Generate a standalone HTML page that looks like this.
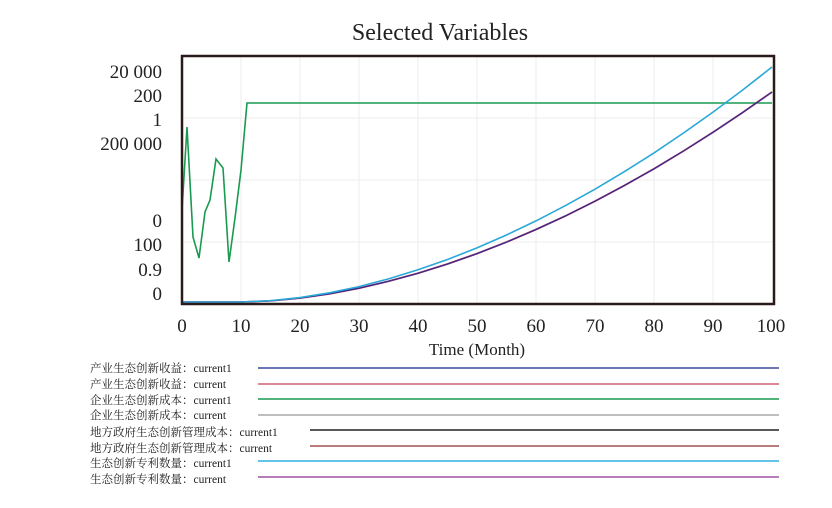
<!DOCTYPE html>
<html><head><meta charset="utf-8"><style>
body{margin:0;background:#fff;width:832px;height:503px;overflow:hidden}
svg text{font-family:"Liberation Serif","Noto Serif CJK SC",serif;fill:#222}
</style></head><body>
<svg width="832" height="503" xmlns="http://www.w3.org/2000/svg">
<text x="440" y="40" font-size="24" text-anchor="middle">Selected Variables</text>
<g stroke="#eee" stroke-width="1">
<line x1="241" y1="56" x2="241" y2="304"/><line x1="300" y1="56" x2="300" y2="304"/><line x1="359" y1="56" x2="359" y2="304"/><line x1="418" y1="56" x2="418" y2="304"/><line x1="477" y1="56" x2="477" y2="304"/><line x1="536" y1="56" x2="536" y2="304"/><line x1="595" y1="56" x2="595" y2="304"/><line x1="654" y1="56" x2="654" y2="304"/><line x1="713" y1="56" x2="713" y2="304"/>
<line x1="182" y1="118" x2="774" y2="118"/><line x1="182" y1="180" x2="774" y2="180"/><line x1="182" y1="242" x2="774" y2="242"/>
</g>
<g font-size="19" text-anchor="end">
<text x="162" y="78">20 000</text><text x="162" y="102">200</text><text x="162" y="126">1</text><text x="162" y="150">200 000</text>
<text x="162" y="227">0</text><text x="162" y="251">100</text><text x="162" y="276">0.9</text><text x="162" y="300">0</text>
</g>
<g font-size="19" text-anchor="middle">
<text x="182" y="332">0</text><text x="241" y="332">10</text><text x="300" y="332">20</text><text x="359" y="332">30</text><text x="418" y="332">40</text><text x="477" y="332">50</text><text x="536" y="332">60</text><text x="595" y="332">70</text><text x="654" y="332">80</text><text x="713" y="332">90</text><text x="771" y="332">100</text>
</g>
<text x="477" y="355" font-size="17" text-anchor="middle">Time (Month)</text>
<polyline fill="none" stroke="#1a9a50" stroke-width="1.6" points="182,210 187,127 193,237 199,258 205,212 210,200 216,159 223,168 229,262 235,218 241,170 247,103 772,103"/>
<polyline fill="none" stroke="#c04060" stroke-width="1.8" points="182,302 241,302 270.5,300.9 300,298.1 329.5,293.8 359,288.2 388.5,281.3 418,273.2 447.5,264 477,253.6 506.5,242.1 536,229.5 565.5,215.9 595,201.2 624.5,185.4 654,168.8 683.5,151 713,132.3 742.5,112.6 772,92"/>
<polyline fill="none" stroke="#3a2a8a" stroke-width="1.3" points="182,302 241,302 270.5,300.9 300,298.1 329.5,293.8 359,288.2 388.5,281.3 418,273.2 447.5,264 477,253.6 506.5,242.1 536,229.5 565.5,215.9 595,201.2 624.5,185.4 654,168.8 683.5,151 713,132.3 742.5,112.6 772,92"/>
<polyline fill="none" stroke="#2aa8d8" stroke-width="1.6" points="182,302 241,302 270.5,300.7 300,297.6 329.5,292.8 359,286.6 388.5,278.9 418,269.8 447.5,259.5 477,247.9 506.5,235 536,220.9 565.5,205.6 595,189.2 624.5,171.6 654,152.9 683.5,133 713,112.1 742.5,90.1 772,67"/>
<rect x="182" y="56" width="592" height="248" fill="none" stroke="#2a1a1a" stroke-width="2.5"/>
<g font-size="11.5">
<text x="90" y="372">产业生态创新收益：current1</text>
<text x="90" y="388">产业生态创新收益：current</text>
<text x="90" y="404">企业生态创新成本：current1</text>
<text x="90" y="419">企业生态创新成本：current</text>
<text x="90" y="436">地方政府生态创新管理成本：current1</text>
<text x="90" y="452">地方政府生态创新管理成本：current</text>
<text x="90" y="467">生态创新专利数量：current1</text>
<text x="90" y="483">生态创新专利数量：current</text>
</g>
<g stroke-width="1.6">
<line x1="258" y1="368" x2="779" y2="368" stroke="#3a4a9a"/>
<line x1="258" y1="384" x2="779" y2="384" stroke="#d06070"/>
<line x1="258" y1="399" x2="779" y2="399" stroke="#1a9a50"/>
<line x1="258" y1="415" x2="779" y2="415" stroke="#aaa"/>
<line x1="310" y1="430" x2="779" y2="430" stroke="#222"/>
<line x1="310" y1="446" x2="779" y2="446" stroke="#a05050"/>
<line x1="258" y1="461" x2="779" y2="461" stroke="#30b0e0"/>
<line x1="258" y1="477" x2="779" y2="477" stroke="#a050a0"/>
</g>
</svg>
</body></html>
